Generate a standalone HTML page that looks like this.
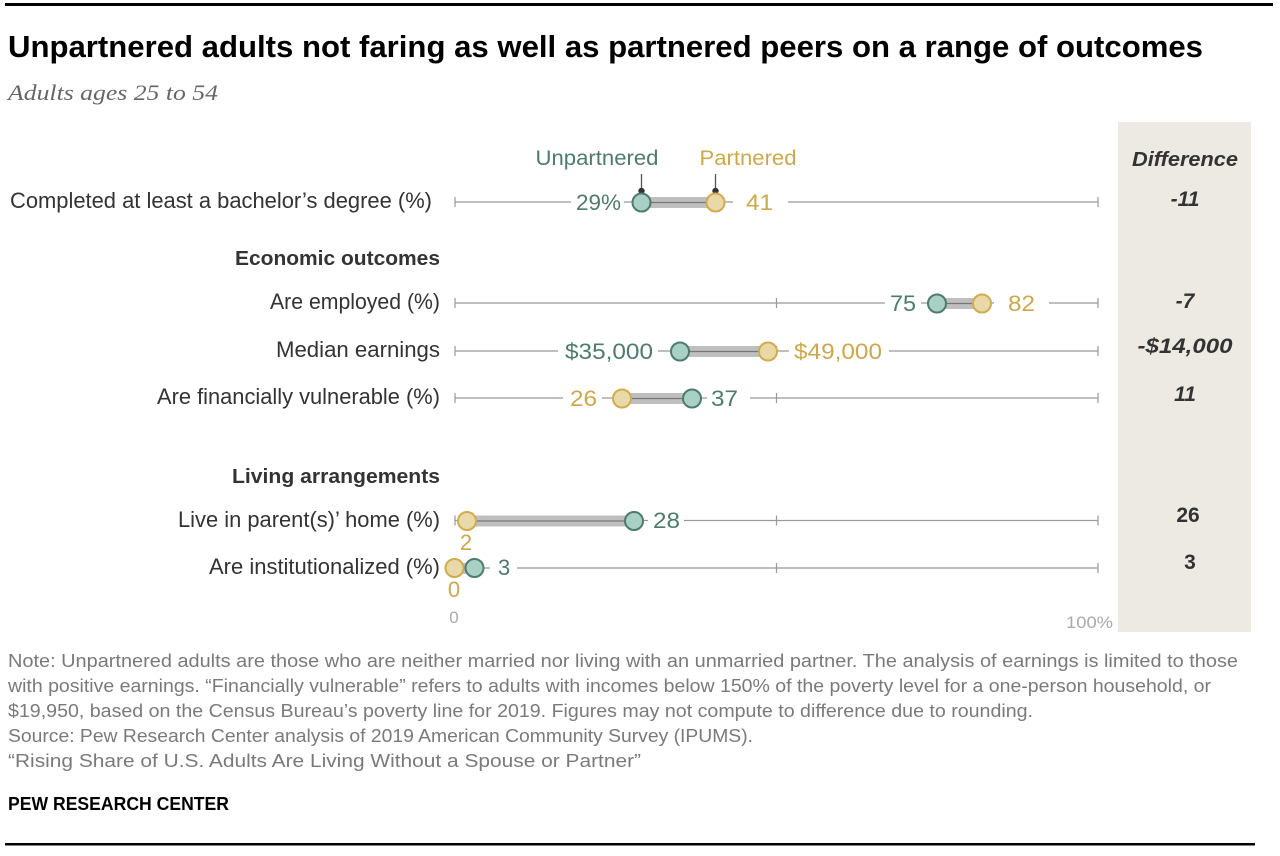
<!DOCTYPE html>
<html>
<head>
<meta charset="utf-8">
<style>
  html, body { margin: 0; padding: 0; background: #ffffff; }
  svg { display: block; }
  text { font-family: "Liberation Sans", Arial, sans-serif; }
</style>
</head>
<body>
<svg width="1280" height="856" viewBox="0 0 1280 856" xmlns="http://www.w3.org/2000/svg">
  <rect x="0" y="0" width="1280" height="856" fill="#ffffff"/>
  <!-- top rule -->
  <rect x="5" y="3" width="1268" height="3" fill="#000"/>

  <!-- title -->
  <text x="8" y="57" font-size="31" font-weight="bold" fill="#000" textLength="1195" lengthAdjust="spacingAndGlyphs">Unpartnered adults not faring as well as partnered peers on a range of outcomes</text>
  <text x="8" y="100" font-size="22" font-style="italic" fill="#666" style="font-family:'Liberation Serif',serif" textLength="210" lengthAdjust="spacingAndGlyphs">Adults ages 25 to 54</text>

  <!-- difference panel -->
  <rect x="1118" y="122" width="133" height="510" fill="#edeae3"/>
  <text x="1185" y="166" font-size="20" font-weight="bold" font-style="italic" fill="#333" text-anchor="middle" textLength="106" lengthAdjust="spacingAndGlyphs">Difference</text>

  <!-- legend -->
  <text x="597" y="165" font-size="21" fill="#4e7b6b" text-anchor="middle" textLength="123" lengthAdjust="spacingAndGlyphs">Unpartnered</text>
  <text x="748" y="165" font-size="21" fill="#cca84c" text-anchor="middle" textLength="97" lengthAdjust="spacingAndGlyphs">Partnered</text>
  <line x1="641.5" y1="174" x2="641.5" y2="191" stroke="#555" stroke-width="1.3"/>
  <circle cx="641.5" cy="191" r="3.2" fill="#333"/>
  <line x1="715.5" y1="174" x2="715.5" y2="191" stroke="#555" stroke-width="1.3"/>
  <circle cx="715.5" cy="191" r="3.2" fill="#333"/>

  <!-- section headers -->
  <text x="440" y="265" font-size="20" font-weight="bold" fill="#333" text-anchor="end" textLength="205" lengthAdjust="spacingAndGlyphs">Economic outcomes</text>
  <text x="440" y="483" font-size="20" font-weight="bold" fill="#333" text-anchor="end" textLength="208" lengthAdjust="spacingAndGlyphs">Living arrangements</text>

  <!-- row labels -->
  <g font-size="22" fill="#333" text-anchor="end">
    <text x="432" y="208" textLength="422" lengthAdjust="spacingAndGlyphs">Completed at least a bachelor’s degree (%)</text>
    <text x="440" y="309" textLength="170" lengthAdjust="spacingAndGlyphs">Are employed (%)</text>
    <text x="440" y="357" textLength="164" lengthAdjust="spacingAndGlyphs">Median earnings</text>
    <text x="440" y="404" textLength="283" lengthAdjust="spacingAndGlyphs">Are financially vulnerable (%)</text>
    <text x="440" y="527" textLength="262" lengthAdjust="spacingAndGlyphs">Live in parent(s)’ home (%)</text>
    <text x="440" y="574" textLength="231" lengthAdjust="spacingAndGlyphs">Are institutionalized (%)</text>
  </g>

  <!-- axis lines + ticks -->
  <g stroke="#999" stroke-width="1.2">
    <line x1="455" y1="202" x2="1098" y2="202"/>
    <line x1="455" y1="197" x2="455" y2="207"/><line x1="776.5" y1="197" x2="776.5" y2="207"/><line x1="1098" y1="197" x2="1098" y2="207"/>
    <line x1="455" y1="303" x2="1098" y2="303"/>
    <line x1="455" y1="298" x2="455" y2="308"/><line x1="776.5" y1="298" x2="776.5" y2="308"/><line x1="1098" y1="298" x2="1098" y2="308"/>
    <line x1="455" y1="351" x2="1098" y2="351"/>
    <line x1="455" y1="346" x2="455" y2="356"/><line x1="776.5" y1="346" x2="776.5" y2="356"/><line x1="1098" y1="346" x2="1098" y2="356"/>
    <line x1="455" y1="398" x2="1098" y2="398"/>
    <line x1="455" y1="393" x2="455" y2="403"/><line x1="776.5" y1="393" x2="776.5" y2="403"/><line x1="1098" y1="393" x2="1098" y2="403"/>
    <line x1="455" y1="520.5" x2="1098" y2="520.5"/>
    <line x1="455" y1="515.5" x2="455" y2="525.5"/><line x1="776.5" y1="515.5" x2="776.5" y2="525.5"/><line x1="1098" y1="515.5" x2="1098" y2="525.5"/>
    <line x1="455" y1="568" x2="1098" y2="568"/>
    <line x1="455" y1="563" x2="455" y2="573"/><line x1="776.5" y1="563" x2="776.5" y2="573"/><line x1="1098" y1="563" x2="1098" y2="573"/>
  </g>

  <!-- label background boxes -->
  <g fill="#ffffff">
    <rect x="571" y="190" width="53" height="24"/>
    <rect x="733" y="190" width="55" height="24"/>
    <rect x="885" y="291" width="36" height="24"/>
    <rect x="994" y="291" width="55" height="24"/>
    <rect x="558" y="339" width="100" height="24"/>
    <rect x="789" y="339" width="100" height="24"/>
    <rect x="563" y="386" width="39" height="24"/>
    <rect x="707" y="386" width="43" height="24"/>
    <rect x="648" y="508" width="36" height="24"/>
    <rect x="490" y="556" width="27" height="24"/>
  </g>

  <!-- connector bars -->
  <g fill="#bfbfbf">
    <rect x="641.5" y="197" width="74" height="11"/>
    <rect x="937" y="298" width="45" height="11"/>
    <rect x="680" y="346" width="88" height="11"/>
    <rect x="622" y="393" width="70" height="11"/>
    <rect x="467" y="515.5" width="167" height="11"/>
    <rect x="455" y="563" width="19" height="11"/>
  </g>
  <g stroke="#777" stroke-width="1.2">
    <line x1="641.5" y1="202.5" x2="715.5" y2="202.5"/>
    <line x1="937" y1="303.5" x2="982" y2="303.5"/>
    <line x1="680" y1="351.5" x2="768" y2="351.5"/>
    <line x1="622" y1="398.5" x2="692" y2="398.5"/>
    <line x1="467" y1="521" x2="634" y2="521"/>
  </g>

  <!-- circles -->
  <g stroke-width="2">
    <circle cx="641.5" cy="202.5" r="9" fill="#a9d0c5" stroke="#4e7b6b"/>
    <circle cx="715.5" cy="202.5" r="9" fill="#ead9a8" stroke="#d1ab4f"/>
    <circle cx="937" cy="303.5" r="9" fill="#a9d0c5" stroke="#4e7b6b"/>
    <circle cx="982" cy="303.5" r="9" fill="#ead9a8" stroke="#d1ab4f"/>
    <circle cx="680" cy="351.5" r="9" fill="#a9d0c5" stroke="#4e7b6b"/>
    <circle cx="768" cy="351.5" r="9" fill="#ead9a8" stroke="#d1ab4f"/>
    <circle cx="692" cy="398.5" r="9" fill="#a9d0c5" stroke="#4e7b6b"/>
    <circle cx="622" cy="398.5" r="9" fill="#ead9a8" stroke="#d1ab4f"/>
    <circle cx="634" cy="521" r="9" fill="#a9d0c5" stroke="#4e7b6b"/>
    <circle cx="467" cy="521" r="9" fill="#ead9a8" stroke="#d1ab4f"/>
    <circle cx="474.5" cy="568" r="9" fill="#a9d0c5" stroke="#4e7b6b"/>
    <circle cx="454.5" cy="568" r="9" fill="#ead9a8" stroke="#d1ab4f"/>
  </g>

  <!-- value labels -->
  <g font-size="22">
    <text x="621" y="210" fill="#4e7b6b" text-anchor="end" textLength="45" lengthAdjust="spacingAndGlyphs">29%</text>
    <text x="746" y="210" fill="#cca84c" textLength="27" lengthAdjust="spacingAndGlyphs">41</text>
    <text x="916" y="311" fill="#4e7b6b" text-anchor="end" textLength="26" lengthAdjust="spacingAndGlyphs">75</text>
    <text x="1008" y="311" fill="#cca84c" textLength="27" lengthAdjust="spacingAndGlyphs">82</text>
    <text x="653" y="359" fill="#4e7b6b" text-anchor="end" textLength="88" lengthAdjust="spacingAndGlyphs">$35,000</text>
    <text x="794" y="359" fill="#cca84c" textLength="88" lengthAdjust="spacingAndGlyphs">$49,000</text>
    <text x="597" y="406" fill="#cca84c" text-anchor="end" textLength="27" lengthAdjust="spacingAndGlyphs">26</text>
    <text x="711" y="406" fill="#4e7b6b" textLength="27" lengthAdjust="spacingAndGlyphs">37</text>
    <text x="653" y="528" fill="#4e7b6b" textLength="27" lengthAdjust="spacingAndGlyphs">28</text>
    <text x="466" y="550" fill="#cca84c" text-anchor="middle">2</text>
    <text x="498" y="575" fill="#4e7b6b">3</text>
    <text x="454" y="597" fill="#cca84c" text-anchor="middle">0</text>
  </g>

  <!-- axis labels -->
  <text x="454" y="623" font-size="17" fill="#aaa" text-anchor="middle">0</text>
  <text x="1113" y="628" font-size="17" fill="#aaa" text-anchor="end" textLength="47" lengthAdjust="spacingAndGlyphs">100%</text>

  <!-- difference values -->
  <g font-size="21" font-weight="bold" font-style="italic" fill="#333" text-anchor="middle">
    <text x="1185" y="206">-11</text>
    <text x="1185" y="308">-7</text>
    <text x="1185" y="353" textLength="95" lengthAdjust="spacingAndGlyphs">-$14,000</text>
    <text x="1185" y="401">11</text>
    <text x="1188" y="522" font-style="normal">26</text>
    <text x="1190" y="569" font-style="normal">3</text>
  </g>

  <!-- notes -->
  <g font-size="18" fill="#7a7a7a">
    <text x="8" y="667" textLength="1230" lengthAdjust="spacingAndGlyphs">Note: Unpartnered adults are those who are neither married nor living with an unmarried partner. The analysis of earnings is limited to those</text>
    <text x="8" y="692" textLength="1203" lengthAdjust="spacingAndGlyphs">with positive earnings. “Financially vulnerable” refers to adults with incomes below 150% of the poverty level for a one-person household, or</text>
    <text x="8" y="717" textLength="1025" lengthAdjust="spacingAndGlyphs">$19,950, based on the Census Bureau’s poverty line for 2019. Figures may not compute to difference due to rounding.</text>
    <text x="8" y="742" textLength="745" lengthAdjust="spacingAndGlyphs">Source: Pew Research Center analysis of 2019 American Community Survey (IPUMS).</text>
    <text x="8" y="767" textLength="633" lengthAdjust="spacingAndGlyphs">“Rising Share of U.S. Adults Are Living Without a Spouse or Partner”</text>
  </g>

  <text x="8" y="810" font-size="18" font-weight="bold" fill="#000" textLength="221" lengthAdjust="spacingAndGlyphs">PEW RESEARCH CENTER</text>

  <!-- bottom rule -->
  <rect x="5" y="843" width="1250" height="2.5" fill="#000"/>
</svg>
</body>
</html>
